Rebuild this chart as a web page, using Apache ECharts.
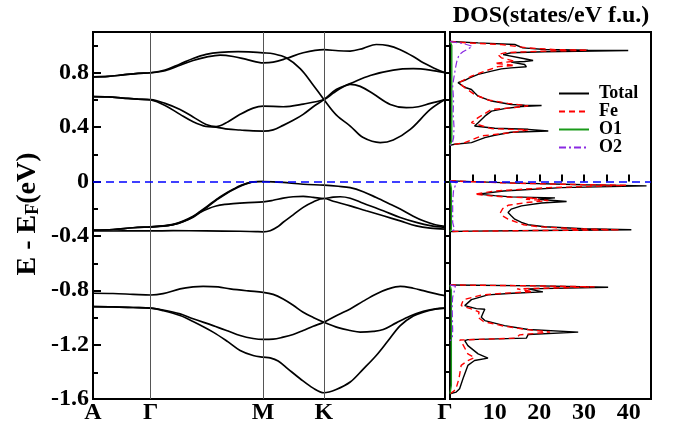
<!DOCTYPE html>
<html><head><meta charset="utf-8">
<script src="https://cdn.jsdelivr.net/npm/echarts@6/dist/echarts.min.js"></script>
<style>html,body{margin:0;padding:0;background:#fff}#c{width:677px;height:425px}</style>
</head><body><div id="c"></div>
<script>
// ---------- k-path ----------
const kLabels = ['A', 'Γ', 'M', 'K', 'Γ'];
const kPoints = [0, 57.7, 170, 230.7, 351.7];
const eTicksMajor = [-1.6, -1.2, -0.8, -0.4, 0, 0.4, 0.8];
const eTicksMinor = [-1.4, -1.0, -0.6, -0.2, 0.2, 0.6, 1.0];
const eTicksAll = [-1.4, -1.2, -1.0, -0.8, -0.6, -0.4, -0.2, 0, 0.2, 0.4, 0.6, 0.8, 1.0];
const dosTicks = [5, 10, 15, 20, 25, 30, 35, 40];
const dosLabels = [10, 20, 30, 40];

// ---------- bands [k, E] ----------
const bandU1 = [[0,0.77],[15,0.773],[30,0.785],[45,0.796],[57.7,0.80],[72,0.82],[87,0.865],[100,0.905],[113,0.935],[127,0.95],[145,0.955],[160,0.952],[170,0.947],[180,0.94],[193,0.91],[207,0.83],[219,0.72],[230.7,0.603],[243,0.49],[257,0.408],[270,0.323],[287,0.286],[300,0.305],[317,0.383],[337,0.53],[351.7,0.603]];
const bandU2 = [[0,0.77],[15,0.773],[30,0.785],[45,0.796],[57.7,0.80],[72,0.815],[87,0.855],[100,0.89],[113,0.915],[127,0.93],[140,0.92],[155,0.895],[170,0.873],[180,0.878],[193,0.905],[210,0.947],[230.7,0.97],[245,0.962],[257,0.96],[270,0.98],[283,1.008],[295,1.0],[307,0.97],[320,0.92],[330,0.873],[342,0.83],[351.7,0.80]];
const bandL1 = [[0,0.624],[15,0.622],[30,0.614],[45,0.606],[57.7,0.603],[72,0.575],[87,0.53],[100,0.475],[113,0.42],[123,0.404],[135,0.44],[147,0.494],[160,0.54],[170,0.555],[190,0.55],[210,0.57],[230.7,0.603],[240,0.65],[247,0.685],[257,0.715],[267,0.70],[280,0.645],[297,0.567],[313,0.543],[325,0.55],[337,0.575],[351.7,0.603]];
const bandL2 = [[0,0.624],[15,0.622],[30,0.614],[45,0.606],[57.7,0.60],[72,0.56],[87,0.494],[100,0.44],[113,0.405],[123,0.40],[135,0.385],[147,0.379],[160,0.372],[170,0.371],[180,0.38],[190,0.413],[200,0.45],[210,0.494],[220,0.55],[230.7,0.603],[243,0.677],[257,0.72],[277,0.78],[300,0.82],[320,0.83],[337,0.82],[351.7,0.80]];
const bandV1 = [[0,-0.357],[20,-0.353],[40,-0.34],[57.7,-0.333],[70,-0.327],[80,-0.315],[90,-0.29],[100,-0.255],[107,-0.22],[115,-0.178],[123,-0.133],[132,-0.09],[140,-0.057],[148,-0.028],[157,-0.006],[165,0.0],[170,0.0],[180,-0.002],[190,-0.007],[210,-0.02],[230.7,-0.027],[245,-0.035],[257,-0.045],[270,-0.075],[283,-0.118],[295,-0.16],[307,-0.203],[320,-0.255],[330,-0.289],[342,-0.318],[351.7,-0.33]];
const bandV1b = [[57.7,-0.333],[80,-0.318],[95,-0.28],[107,-0.225],[115,-0.183],[123,-0.138],[140,-0.06],[157,-0.008],[170,0.0]];
const bandV2 = [[0,-0.357],[20,-0.353],[40,-0.34],[57.7,-0.333],[70,-0.328],[80,-0.317],[90,-0.295],[100,-0.262],[107,-0.228],[115,-0.2],[123,-0.18],[132,-0.168],[140,-0.162],[155,-0.155],[170,-0.15],[180,-0.138],[190,-0.122],[200,-0.112],[210,-0.11],[220,-0.116],[230.7,-0.125],[240,-0.115],[247,-0.112],[257,-0.123],[270,-0.16],[290,-0.215],[307,-0.265],[323,-0.301],[337,-0.325],[351.7,-0.338]];
const bandV3 = [[0,-0.364],[20,-0.364],[40,-0.363],[57.7,-0.363],[80,-0.362],[113,-0.363],[147,-0.366],[163,-0.369],[170,-0.37],[177,-0.362],[185,-0.33],[190,-0.30],[200,-0.245],[210,-0.19],[220,-0.15],[230.7,-0.125],[240,-0.145],[257,-0.179],[273,-0.215],[290,-0.252],[307,-0.29],[323,-0.326],[337,-0.343],[351.7,-0.35]];
const bandW1 = [[0,-0.822],[20,-0.824],[40,-0.83],[57.7,-0.835],[70,-0.825],[87,-0.79],[100,-0.775],[110,-0.771],[125,-0.775],[137,-0.79],[155,-0.805],[170,-0.815],[180,-0.83],[190,-0.864],[200,-0.91],[210,-0.962],[220,-1.0],[230.7,-1.035],[245,-1.075],[257,-1.096],[267,-1.108],[280,-1.103],[290,-1.089],[303,-1.04],[317,-0.99],[330,-0.955],[342,-0.937],[351.7,-0.932]];
const bandW2 = [[0,-0.92],[20,-0.922],[40,-0.927],[57.7,-0.932],[70,-0.945],[87,-0.974],[100,-1.01],[120,-1.06],[135,-1.1],[147,-1.133],[160,-1.155],[170,-1.162],[180,-1.16],[190,-1.145],[200,-1.125],[210,-1.096],[220,-1.065],[230.7,-1.035],[245,-0.98],[257,-0.937],[270,-0.88],[283,-0.827],[295,-0.79],[307,-0.771],[320,-0.785],[330,-0.803],[342,-0.825],[351.7,-0.84]];
const bandW3 = [[0,-0.92],[20,-0.922],[40,-0.927],[57.7,-0.932],[70,-0.95],[87,-0.986],[100,-1.03],[120,-1.108],[135,-1.18],[147,-1.243],[160,-1.28],[170,-1.292],[177,-1.297],[185,-1.32],[195,-1.38],[207,-1.451],[220,-1.52],[230.7,-1.554],[243,-1.53],[257,-1.475],[270,-1.38],[283,-1.28],[295,-1.17],[307,-1.06],[320,-0.99],[330,-0.962],[342,-0.94],[351.7,-0.932]];
const bands = [bandU1, bandU2, bandL1, bandL2, bandV1, bandV1b, bandV2, bandV3, bandW1, bandW2, bandW3];

// ---------- DOS [dos, E] (null = gap) ----------
const dosTotal = [[0,1.03],[6.3,1.02],[14.5,1.008],[16.3,0.983],[21.2,0.971],[30.9,0.966],[39.9,0.964],[21.2,0.955],[13.7,0.947],[11.9,0.934],[16.7,0.903],[18.6,0.89],[16.7,0.883],[13.7,0.878],[16.7,0.861],[17.1,0.844],[13.7,0.836],[11.5,0.829],[9.3,0.812],[6.3,0.788],[4.4,0.763],[3.3,0.745],[1.8,0.727],[2.9,0.702],[3.6,0.69],[4.8,0.677],[5.5,0.653],[6.3,0.628],[9.3,0.592],[13.7,0.567],[16.7,0.562],[20.5,0.559],[16.0,0.552],[12.2,0.536],[9.3,0.518],[7.8,0.481],[6.3,0.433],[5.5,0.408],[10,0.392],[17.5,0.384],[22.0,0.372],[13.7,0.362],[10,0.34],[7.8,0.323],[4.8,0.286],[1.0,0.274],[0,0.266],
 null,
 [0,0.005],[15,-0.012],[30,-0.024],[44,-0.032],[25,-0.045],[12,-0.07],[6.3,-0.093],[10,-0.104],[13.7,-0.113],[23.5,-0.12],[19.7,-0.13],[26.1,-0.147],[20.5,-0.158],[16,-0.179],[13.7,-0.203],[13.0,-0.228],[13.7,-0.252],[14.5,-0.277],[16,-0.301],[17.5,-0.318],[21.2,-0.333],[30,-0.347],[40.6,-0.355],[20,-0.36],[5,-0.365],[0,-0.368],
 null,
 [0,-0.761],[20,-0.768],[35.4,-0.778],[17.5,-0.79],[20.8,-0.812],[14,-0.822],[8.5,-0.834],[4.8,-0.869],[3.3,-0.913],[5.9,-0.935],[7.8,-0.94],[7.5,-0.96],[7.0,-0.998],[7.8,-1.023],[12.2,-1.06],[17.5,-1.089],[28.7,-1.108],[17.5,-1.125],[17.1,-1.152],[4.0,-1.163],[3.3,-1.17],[4.0,-1.207],[6.3,-1.268],[8.5,-1.299],[5.5,-1.317],[4.0,-1.353],[2.9,-1.451],[2.15,-1.524],[1.4,-1.549],[0,-1.561]];
const dosFe = [[0,1.03],[4,1.02],[11.5,1.008],[17.5,0.983],[24,0.97],[30.9,0.966],[20,0.958],[12.5,0.948],[10.7,0.934],[11.5,0.91],[14.5,0.885],[10,0.87],[14.5,0.855],[10.7,0.845],[7.8,0.812],[4.8,0.775],[2.0,0.727],[3.3,0.69],[5.5,0.64],[8.5,0.6],[13,0.575],[17.5,0.557],[14.5,0.545],[9.3,0.53],[6.3,0.47],[4.8,0.433],[9.3,0.389],[17.5,0.38],[13.7,0.36],[7,0.335],[3.3,0.286],[0.8,0.272],[0,0.266],
 null,
 [0,0.005],[14,-0.012],[28,-0.022],[39.4,-0.028],[22,-0.045],[10,-0.07],[5.5,-0.093],[9,-0.105],[12.2,-0.113],[19.5,-0.122],[17,-0.13],[22,-0.14],[17,-0.155],[13,-0.175],[11.8,-0.2],[11.3,-0.228],[11.6,-0.25],[13,-0.277],[15,-0.3],[16.5,-0.318],[20,-0.333],[28,-0.347],[38,-0.356],[18,-0.361],[4,-0.366],[0,-0.368],
 null,
 [0,-0.761],[18,-0.767],[32.4,-0.775],[15,-0.79],[18.5,-0.81],[12,-0.822],[7,-0.835],[3,-0.87],[2.5,-0.913],[5,-0.94],[6.5,-0.96],[6.3,-1.0],[7.5,-1.03],[12.2,-1.065],[17.5,-1.09],[22.4,-1.108],[15.6,-1.128],[14.8,-1.152],[2.2,-1.166],[2.9,-1.2],[4,-1.268],[5.5,-1.295],[4,-1.317],[2.5,-1.353],[2.0,-1.451],[1.3,-1.53],[0.5,-1.55],[0,-1.561]];
const dosO1 = [[0,1.03],[0.4,1.0],[0.4,0.3],[0,0.266], null, [0,0.005],[0.3,-0.05],[0.3,-0.35],[0,-0.368], null, [0,-0.761],[0.3,-0.8],[0.3,-1.5],[0,-1.561]];
const dosO2 = [[0,1.03],[3,1.015],[5,0.995],[4,0.975],[2.9,0.955],[2,0.93],[1.5,0.88],[1.2,0.83],[0.8,0.75],[0.6,0.7],[0.8,0.6],[0.7,0.5],[0.9,0.4],[0.8,0.32],[0.5,0.28],[0,0.266],
 null, [0,0.005],[1.5,-0.01],[1.2,-0.03],[0.8,-0.06],[0.6,-0.15],[0.6,-0.3],[1.0,-0.355],[0,-0.368],
 null, [0,-0.761],[1.2,-0.77],[1.0,-0.8],[0.6,-0.85],[0.5,-0.9],[0.5,-0.95],[0.6,-1.1],[0.5,-1.16],[0,-1.17]];

// ---------- chart ----------
const FONT = 'Liberation Serif';
const chart = echarts.init(document.getElementById('c'), null, {renderer: 'canvas'});
const bandSeries = bands.map(b => ({
  type: 'line', xAxisIndex: 0, yAxisIndex: 0, data: b, smooth: 0.35,
  symbol: 'none', silent: true, z: 3,
  lineStyle: {color: '#000', width: 1.7}
}));
const fmtE = v => (Math.abs(v) < 1e-9 ? '0' : v.toFixed(1));
chart.setOption({
  animation: false,
  backgroundColor: '#fff',
  grid: [
    {left: 93, top: 32, width: 352, height: 368, show: true, borderColor: '#000', borderWidth: 2, backgroundColor: 'transparent'},
    {left: 450, top: 32, width: 201, height: 368, show: true, borderColor: '#000', borderWidth: 2, backgroundColor: 'transparent'},
    {left: 93, top: 32, width: 352, height: 368, show: false}
  ],
  xAxis: [
    {gridIndex: 0, type: 'value', min: 0, max: kPoints[kPoints.length - 1],
     axisLine: {show: false}, splitLine: {show: false}, axisTick: {show: false},
     axisLabel: {customValues: kPoints, margin: 2, color: '#000', fontFamily: FONT, fontWeight: 'bold', fontSize: 24,
       formatter: v => { const i = kPoints.findIndex(p => Math.abs(p - v) < 0.5); return i >= 0 ? kLabels[i] : ''; }}},
    {gridIndex: 1, type: 'value', min: 0, max: 45,
     axisLine: {show: false}, splitLine: {show: false},
     axisTick: {inside: true, length: 7, customValues: dosTicks, lineStyle: {color: '#000', width: 2}},
     axisLabel: {customValues: dosLabels, margin: 2, color: '#000', fontFamily: FONT, fontWeight: 'bold', fontSize: 24}},
    {gridIndex: 2, type: 'value', min: 0, max: 1, show: false}
  ],
  yAxis: [
    {gridIndex: 0, type: 'value', min: -1.6, max: 1.1, position: 'left',
     axisLine: {show: false}, splitLine: {show: false},
     axisTick: {inside: true, length: 8, customValues: eTicksMajor, lineStyle: {color: '#000', width: 2}},
     axisLabel: {customValues: eTicksMajor, formatter: fmtE, margin: 4, color: '#000', fontFamily: FONT, fontWeight: 'bold', fontSize: 24}},
    {gridIndex: 1, type: 'value', min: -1.6, max: 1.1, position: 'right',
     axisLine: {show: false}, splitLine: {show: false}, axisLabel: {show: false},
     axisTick: {inside: true, length: 6, customValues: eTicksAll, lineStyle: {color: '#000', width: 2}}},
    {gridIndex: 2, type: 'value', min: -1.6, max: 1.1, position: 'left',
     axisLine: {show: false}, splitLine: {show: false}, axisLabel: {show: false},
     axisTick: {inside: true, length: 5, customValues: eTicksMinor, lineStyle: {color: '#000', width: 2}}}
  ],
  legend: {
    data: ['Total', 'Fe', 'O1', 'O2'], orient: 'vertical', left: 558, top: 84.5, padding: 0,
    itemWidth: 30, itemHeight: 12, itemGap: 0, selectedMode: false,
    itemStyle: {opacity: 0},
    textStyle: {fontFamily: FONT, fontWeight: 'bold', fontSize: 18, lineHeight: 17, color: '#000', padding: [0, 0, 0, 5]}
  },
  graphic: [
    {type: 'text', x: 551, y: 16, silent: true,
     style: {text: 'DOS(states/eV f.u.)', fontFamily: FONT, fontWeight: 'bold', fontSize: 24, fill: '#000', align: 'center', verticalAlign: 'middle'}},
    {type: 'text', x: 28, y: 214, rotation: Math.PI / 2, silent: true,
     style: {text: '{m|E - E}{s|F}{m|(eV)}', align: 'center', verticalAlign: 'middle', fill: '#000',
       rich: {
         m: {fontFamily: FONT, fontWeight: 'bold', fontSize: 28, lineHeight: 28, verticalAlign: 'top', fill: '#000'},
         s: {fontFamily: FONT, fontWeight: 'bold', fontSize: 18, lineHeight: 18, verticalAlign: 'bottom', padding: [15, 0, 0, 0], fill: '#000'}
       }}}
  ],
  series: [
    {type: 'line', xAxisIndex: 0, yAxisIndex: 0, data: [], z: 1, silent: true,
     markLine: {symbol: 'none', silent: true, animation: false, label: {show: false},
       lineStyle: {color: '#555', width: 1, type: 'solid'},
       data: kPoints.slice(1, 4).map(v => ({xAxis: v}))}},
    ...bandSeries,
    {type: 'line', xAxisIndex: 0, yAxisIndex: 0, data: [], z: 5, silent: true,
     markLine: {symbol: 'none', silent: true, animation: false, label: {show: false},
       lineStyle: {color: '#0000ff', width: 1.5, type: [8, 5]}, data: [{yAxis: 0}]}},
    {name: 'Total', type: 'line', xAxisIndex: 1, yAxisIndex: 1, data: dosTotal, symbol: 'none', silent: true, z: 3,
     itemStyle: {color: '#000'}, lineStyle: {color: '#000', width: 1.4}},
    {name: 'Fe', type: 'line', xAxisIndex: 1, yAxisIndex: 1, data: dosFe, symbol: 'none', silent: true, z: 4,
     itemStyle: {color: '#ff0000'}, lineStyle: {color: '#ff0000', width: 1.4, type: [6, 4]}},
    {name: 'O1', type: 'line', xAxisIndex: 1, yAxisIndex: 1, data: dosO1, symbol: 'none', silent: true, z: 4,
     itemStyle: {color: '#1a9a1a'}, lineStyle: {color: '#1a9a1a', width: 1.4}},
    {name: 'O2', type: 'line', xAxisIndex: 1, yAxisIndex: 1, data: dosO2, symbol: 'none', silent: true, z: 4,
     itemStyle: {color: '#8a2be2'}, lineStyle: {color: '#8a2be2', width: 1.2, type: [7, 3, 2, 3]}},
    {type: 'line', xAxisIndex: 1, yAxisIndex: 1, data: [], z: 5, silent: true,
     markLine: {symbol: 'none', silent: true, animation: false, label: {show: false},
       lineStyle: {color: '#0000ff', width: 1.5, type: [8, 5]}, data: [{yAxis: 0}]}}
  ]
});
</script>
</body></html>
